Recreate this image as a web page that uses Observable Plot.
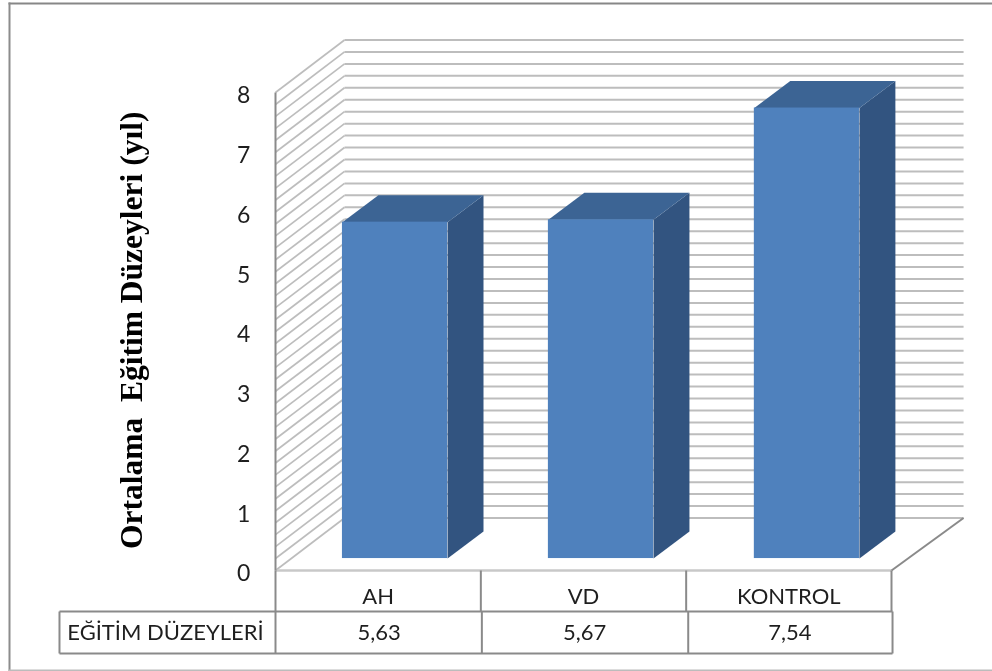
<!DOCTYPE html>
<html>
<head>
<meta charset="utf-8">
<script src="https://cdn.jsdelivr.net/npm/d3@7"></script>
<script src="https://cdn.jsdelivr.net/npm/@observablehq/plot@0.6"></script>
<style>
html,body{margin:0;padding:0;background:#fff;overflow:hidden}
svg{display:block}
</style>
</head>
<body>
<div id="chart"></div>
<script>
const categories = ["AH", "VD", "KONTROL"];
const values = [5.63, 5.67, 7.54];
const valueLabels = ["5,63", "5,67", "7,54"];
const yTicks = [0, 1, 2, 3, 4, 5, 6, 7, 8];
const gridLevels = d3.range(0, 41).map(i => i / 5);
const seriesName = "EĞİTİM DÜZEYLERİ";
const yTitle = "Ortalama  Eğitim Düzeyleri (yıl)";

// Depth of the 3D box, in data units (categories across, value units up)
const wallDX = 0.336, wallRight = 3.351, wallDY = 0.879;
const barDX = 0.175, barDY = 0.452;
const barStart = [0.326, 1.329, 2.332], barWidth = 0.512, barBase = 0.2;
const rowBreak = -0.686, tableBottom = -1.389, tableLeft = -1.052;

const bars = categories.map((c, i) => ({
  c, x1: barStart[i], x2: barStart[i] + barWidth, y0: barBase, y1: barBase + values[i]
}));
const poly = (id, pts) => pts.map(([x, y]) => ({id, x, y}));
const tops = bars.flatMap(b => poly(b.c, [[b.x1, b.y1], [b.x2, b.y1], [b.x2 + barDX, b.y1 + barDY], [b.x1 + barDX, b.y1 + barDY]]));
const sides = bars.flatMap(b => poly(b.c, [[b.x2, b.y0], [b.x2 + barDX, b.y0 + barDY], [b.x2 + barDX, b.y1 + barDY], [b.x2, b.y1]]));

const grid = "#bdbdbd", axis = "#8a8a8a", ink = "#1e1e1e";
const seg = (arr, o) => Plot.link(arr, {x1: "a", y1: "b", x2: "c", y2: "d", strokeWidth: 2, strokeLinecap: "butt", ...o});

const plot = Plot.plot({
  width: 992, height: 671,
  marginLeft: 9, marginTop: 3, marginRight: 0, marginBottom: 1,
  x: {domain: [0, 3], range: [275, 891], axis: null},
  y: {domain: [0, 8], range: [570, 92], axis: null},
  style: {background: "#fff", filter: "blur(0.35px)"},
  marks: [
    Plot.frame({anchor: "top", stroke: "#878787", strokeWidth: 2}),
    Plot.frame({anchor: "left", stroke: "#8c8c8c", strokeWidth: 2}),
    Plot.frame({anchor: "bottom", stroke: "#bcbcbc", strokeWidth: 2}),

    // back and side walls
    seg(gridLevels.map(v => ({a: wallDX, b: v + wallDY, c: wallRight, d: v + wallDY})), {stroke: grid}),
    seg(gridLevels.map(v => ({a: 0, b: v, c: wallDX, d: v + wallDY})), {stroke: grid, strokeWidth: 1.7}),
    seg([{a: 0, b: 0, c: 3, d: 0}], {stroke: "#c8c8c8", strokeWidth: 2.5}),
    seg([{a: 3, b: 0, c: wallRight, d: wallDY}], {stroke: axis}),
    seg([{a: 0, b: 0, c: 0, d: 8}], {stroke: axis}),

    // bars
    Plot.line(sides, {x: "x", y: "y", z: "id", fill: "#325480", stroke: "none", curve: "linear-closed"}),
    Plot.line(tops, {x: "x", y: "y", z: "id", fill: "#3c6494", stroke: "none", curve: "linear-closed"}),
    Plot.rect(bars, {x1: "x1", x2: "x2", y1: "y0", y2: "y1", fill: "#4f81bd"}),

    // data table
    seg([
      {a: 0, b: 0, c: 0, d: tableBottom},
      {a: 1, b: 0, c: 1, d: rowBreak},
      {a: 2, b: 0, c: 2, d: rowBreak},
      {a: 3, b: 0, c: 3, d: rowBreak},
      {a: 1.005, b: rowBreak, c: 1.005, d: tableBottom},
      {a: 2.01, b: rowBreak, c: 2.01, d: tableBottom},
      {a: 3.005, b: rowBreak, c: 3.005, d: tableBottom},
      {a: tableLeft, b: rowBreak, c: tableLeft, d: tableBottom},
      {a: tableLeft, b: rowBreak, c: 3.005, d: rowBreak},
      {a: tableLeft, b: tableBottom, c: 3.005, d: tableBottom}
    ], {stroke: axis}),

    // text
    Plot.text(yTicks, {x: -0.155, y: d => d, dy: 3.5, text: d => String(d), fontFamily: "Lato", fontSize: 23, fill: ink, textAnchor: "middle"}),
    Plot.text(categories, {x: (d, i) => i + 0.5, y: -0.44, dy: 0.5, text: d => d, fontFamily: "Lato", fontSize: 22, fill: ink}),
    Plot.text(valueLabels, {x: (d, i) => i + 0.505, y: -1.04, text: d => d, fontFamily: "Lato", fontSize: 22, fill: ink}),
    Plot.text([seriesName], {x: -0.536, y: -1.04, text: d => d, fontFamily: "Lato", fontSize: 22, fill: ink}),
    Plot.text([yTitle], {x: -0.7, y: 4.02, text: d => d, rotate: -90, fontFamily: "Liberation Serif", fontWeight: "bold", fontSize: 31.5, fill: "#000", style: {whiteSpace: "pre"}})
  ]
});
document.getElementById("chart").append(plot);
</script>
</body>
</html>
